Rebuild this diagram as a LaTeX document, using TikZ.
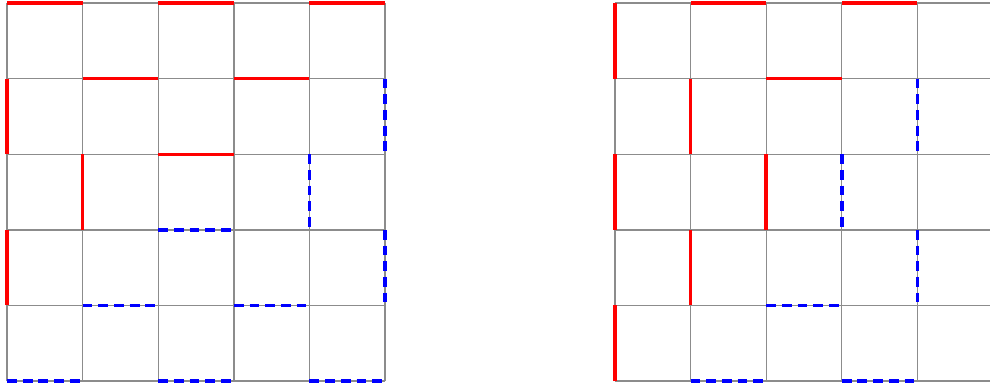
\documentclass[tikz,border=0pt]{standalone}
\usepackage{tikz}

\tikzset{
  gitter/.style={gray!90, line width=0.5pt},
  wand/.style={red, line width=1.3pt},
  offen/.style={blue, line width=1.4pt, dash pattern=on 3.7pt off 2.2pt}
}

\begin{document}
\begin{tikzpicture}
\useasboundingbox (-0.093,-0.12) rectangle (13.0,5.04);
    % linkes Gitter:
    \draw[gitter] (0,0) grid (5,5);
    \draw[wand] (0,5) -- (1,5); % oben
    \draw[wand] (2,5) -- (3,5);
    \draw[wand] (4,5) -- (5,5);
    \draw[wand] (1,4) -- (2,4);
    \draw[wand] (3,4) -- (4,4);
    \draw[wand] (0,3) -- (0,4);
    \draw[wand] (2,3) -- (3,3);
    \draw[wand] (1,2) -- (1,3);
    \draw[wand] (0,1) -- (0,2);
    % offene Kanten links:
    \draw[offen] (5,4) -- (5,3);
    \draw[offen] (4,3) -- (4,2);
    \draw[offen] (2,2) -- (3,2);
    \draw[offen] (5,2) -- (5,1);
    \draw[offen] (1,1) -- (2,1);
    \draw[offen] (3,1) -- (4,1);
    \draw[offen] (0,0) -- (1,0); % unten
    \draw[offen] (2,0) -- (3,0);
    \draw[offen] (4,0) -- (5,0);
    % rechtes Gitter:
    \begin{scope}[xshift=8.04cm]
    \draw[gitter] (0,0) grid (5,5);
    \draw[wand] (0,4) -- (0,5);
    \draw[wand] (1,5) -- (2,5); % oben
    \draw[wand] (3,5) -- (4,5);
    \draw[wand] (1,3) -- (1,4);
    \draw[wand] (2,4) -- (3,4);
    \draw[wand] (0,2) -- (0,3);
    \draw[wand] (2,2) -- (2,3);
    \draw[wand] (1,1) -- (1,2);
    \draw[wand] (0,0) -- (0,1);
    % offene Kanten rechts:
    \draw[offen] (4,4) -- (4,3);
    \draw[offen] (3,3) -- (3,2);
    \draw[offen] (4,2) -- (4,1);
    \draw[offen] (2,1) -- (3,1);
    \draw[offen] (1,0) -- (2,0); % unten
    \draw[offen] (3,0) -- (4,0);
    \end{scope}
\end{tikzpicture}
\end{document}
